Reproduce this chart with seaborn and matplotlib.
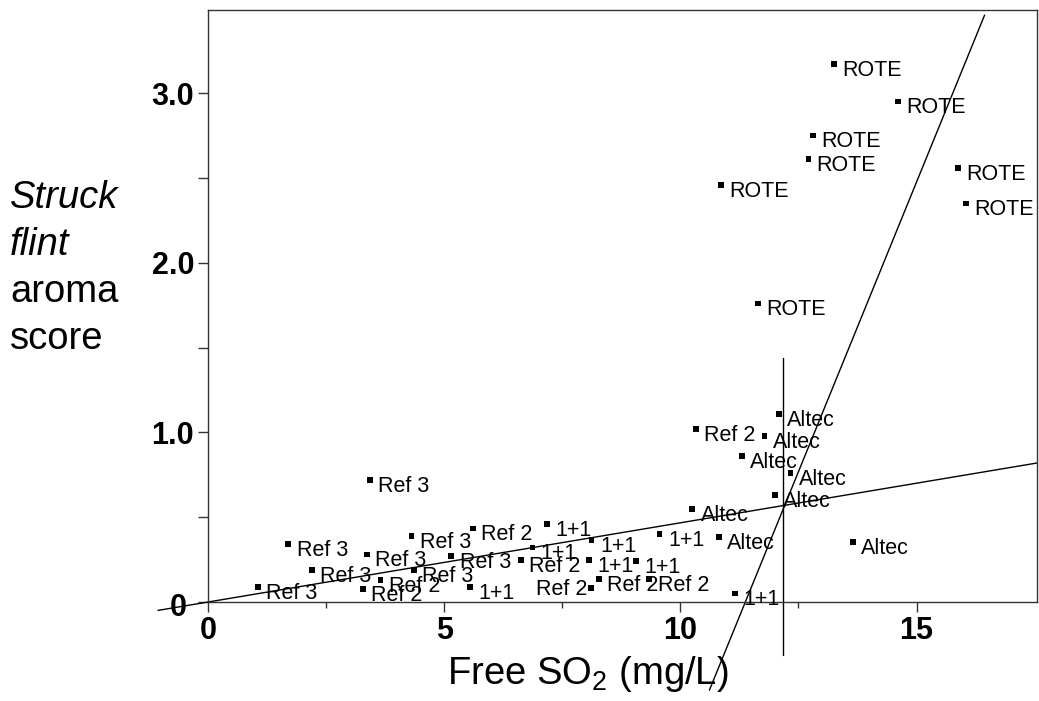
import matplotlib
matplotlib.use("Agg")
import matplotlib.pyplot as plt
import matplotlib.transforms as mtransforms
import seaborn as sns
import pandas as pd
from matplotlib.ticker import FixedLocator

# marker positions, one pair of arrays per wine
rote_x = [13.25, 14.60, 12.80, 12.71, 10.86, 15.88, 16.05, 11.65]
rote_y = [3.17, 2.95, 2.75, 2.61, 2.46, 2.56, 2.35, 1.76]
altec_x = [12.08, 11.78, 11.30, 12.33, 12.00, 10.25, 10.81, 13.65]
altec_y = [1.11, 0.98, 0.86, 0.76, 0.63, 0.55, 0.385, 0.355]
oneone_x = [7.17, 8.12, 9.56, 8.07, 9.06, 11.16, 5.55, 6.87]
oneone_y = [0.46, 0.365, 0.40, 0.247, 0.243, 0.051, 0.087, 0.322]
ref2_x = [10.33, 9.34, 8.28, 8.11, 6.62, 5.61, 3.28, 3.65]
ref2_y = [1.02, 0.135, 0.135, 0.081, 0.247, 0.434, 0.075, 0.13]
ref3_x = [1.06, 1.70, 2.20, 3.36, 3.43, 4.31, 4.36, 5.15]
ref3_y = [0.09, 0.34, 0.19, 0.28, 0.72, 0.39, 0.19, 0.27]

# fitted lines
shallow_slope = 0.0467
shallow_x = [-1.06, 17.55]
steep_pts_x = [12.18, 16.44]
steep_pts_y = [0.55, 3.46]
steep_bottom_y = -0.52
vline_x = 12.18
vline_y = [-0.31, 1.44]

x_ticks = [0, 5, 10, 15]
x_minor = [2.5, 7.5, 12.5]
y_ticks = [0, 1, 2, 3]
y_tick_labels = ["0", "1.0", "2.0", "3.0"]
y_minor = [0.5, 1.5, 2.5]

# labels that sit on the left of their marker
left_labels = [("Ref 2", 3)]

frames = []
for name, xs, ys in [("ROTE", rote_x, rote_y), ("Altec", altec_x, altec_y),
                     ("1+1", oneone_x, oneone_y), ("Ref 2", ref2_x, ref2_y),
                     ("Ref 3", ref3_x, ref3_y)]:
    d = pd.DataFrame({"so2": xs, "flint": ys, "wine": name})
    d["idx"] = range(len(xs))
    frames.append(d)
df = pd.concat(frames, ignore_index=True)

sns.set_style("ticks")
plt.rcParams["font.family"] = ["Liberation Sans", "DejaVu Sans"]
plt.rcParams["mathtext.fontset"] = "custom"
plt.rcParams["mathtext.rm"] = "Liberation Sans"
plt.rcParams["text.color"] = "black"
plt.rcParams["xtick.labelcolor"] = "black"
plt.rcParams["ytick.labelcolor"] = "black"

fig = plt.figure(figsize=(10.39, 7.01), dpi=100)
ax = fig.add_axes([0.2002, 0.1412, 0.7979, 0.8445])

sns.scatterplot(data=df, x="so2", y="flint", marker="s", s=17, color="black",
                edgecolor="none", linewidth=0, ax=ax, legend=False, zorder=3)

for _, r in df.iterrows():
    if (r["wine"], r["idx"]) in left_labels:
        ax.annotate(r["wine"], (r["so2"], r["flint"]), xytext=(-3, 6.5),
                    textcoords="offset points", ha="right", va="top",
                    fontsize=15.5, color="black")
    else:
        ax.annotate(r["wine"], (r["so2"], r["flint"]), xytext=(6, 3),
                    textcoords="offset points", ha="left", va="top",
                    fontsize=15.5, color="black")

# lines
ax.plot(shallow_x, [shallow_slope * v for v in shallow_x], color="black", lw=1, clip_on=False)
b = (steep_pts_y[1] - steep_pts_y[0]) / (steep_pts_x[1] - steep_pts_x[0])
a = steep_pts_y[0] - b * steep_pts_x[0]
x_bottom = (steep_bottom_y - a) / b
ax.plot([x_bottom, steep_pts_x[1]], [steep_bottom_y, steep_pts_y[1]], color="black", lw=1, clip_on=False)
ax.plot([vline_x, vline_x], vline_y, color="black", lw=1, clip_on=False)

ax.set_xlim(0, 17.55)
ax.set_ylim(0, 3.49)
ax.xaxis.set_major_locator(FixedLocator(x_ticks))
ax.xaxis.set_minor_locator(FixedLocator(x_minor))
ax.yaxis.set_major_locator(FixedLocator(y_ticks))
ax.yaxis.set_minor_locator(FixedLocator(y_minor))
ax.set_xticklabels([str(v) for v in x_ticks], fontweight="bold")
ax.set_yticklabels(y_tick_labels, fontweight="bold")
ax.tick_params(axis="both", which="major", direction="out", length=7, width=1,
               labelsize=22, color="#333333", labelcolor="black", pad=3)
ax.tick_params(axis="x", which="minor", direction="out", length=4, width=1, color="#333333")
ax.tick_params(axis="y", which="minor", direction="out", length=7, width=1, color="#333333")
for sp in ax.spines.values():
    sp.set_color("#333333")
    sp.set_linewidth(1)
ax.set_xlabel("")
ax.set_ylabel("")

# the "0" on the y axis sits a little lower and further left
zero_lab = ax.get_yticklabels()[0]
zero_lab.set_transform(zero_lab.get_transform() +
                       mtransforms.ScaledTranslation(-0.07, -0.02, fig.dpi_scale_trans))

fig.text(588 / 1039, 1 - 684 / 701, "Free SO$_2$ (mg/L)", ha="center", va="baseline",
         fontsize=27.5, color="black")
for txt, base, style in [("Struck", 208, "italic"), ("flint", 255, "italic"),
                         ("aroma", 302, "normal"), ("score", 349, "normal")]:
    fig.text(10 / 1039, 1 - base / 701, txt, ha="left", va="baseline", fontsize=27.5,
             style=style, color="black")

fig.savefig("out.png", dpi=100)
